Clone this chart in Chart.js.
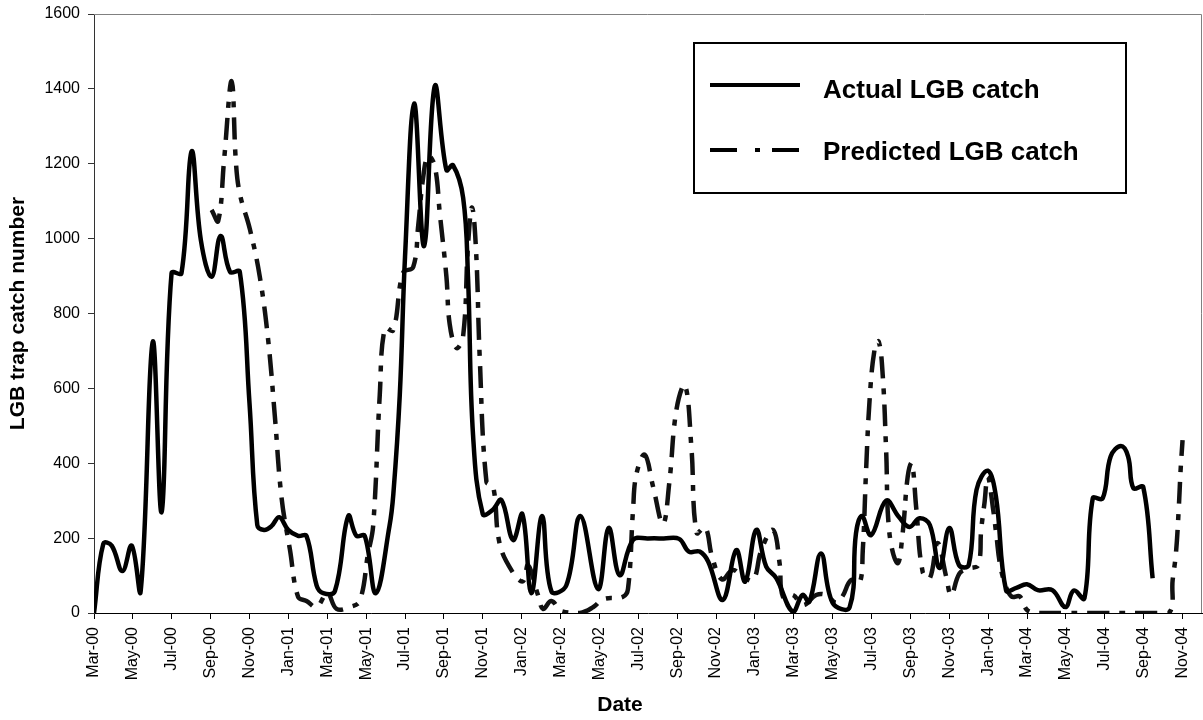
<!DOCTYPE html>
<html>
<head>
<meta charset="utf-8">
<script src="https://cdn.jsdelivr.net/npm/chart.js@4/dist/chart.umd.min.js"></script>
<style>
  html, body { margin: 0; padding: 0; background: #fff; }
</style>
</head>
<body>
<canvas id="lgbChart" width="1203" height="720"></canvas>
<script>
// x values are months counted from Mar-00 (0 = Mar-00, 12 = Mar-01 ...)
const tickLabels = ['Mar-00', 'May-00', 'Jul-00', 'Sep-00', 'Nov-00', 'Jan-01', 'Mar-01', 'May-01',
  'Jul-01', 'Sep-01', 'Nov-01', 'Jan-02', 'Mar-02', 'May-02', 'Jul-02', 'Sep-02', 'Nov-02',
  'Jan-03', 'Mar-03', 'May-03', 'Jul-03', 'Sep-03', 'Nov-03', 'Jan-04', 'Mar-04', 'May-04',
  'Jul-04', 'Sep-04', 'Nov-04'];

const actualMonths = [0, 0.48, 0.91, 1.46, 1.94, 2.4, 3.02, 3.48, 3.99, 4.5, 5.02, 5.5, 6.05, 6.51, 7.0,
  7.5, 8.0, 8.4, 8.75, 9.13, 9.53, 9.99, 10.5, 10.93, 11.45, 11.79, 12.39, 13.08, 13.5, 13.93,
  14.5, 15.2, 15.4, 15.73, 16.0, 16.47, 16.98, 17.53, 18.13, 18.47, 18.99, 19.24, 19.5, 20.0, 20.5,
  20.96, 21.56, 22.04, 22.5, 23.05, 23.53, 24.3, 25.02, 25.93, 26.48, 27.04, 27.73, 28.5, 29.3, 30.1,
  30.6, 31.16, 31.6, 32.35, 33.04, 33.5, 34.07, 34.58, 35.1, 35.95, 36.45, 36.8, 37.4, 38.0, 38.87,
  39.2, 39.5, 39.98, 40.75, 41.4, 41.95, 42.47, 43.0, 43.5, 44.0, 44.5, 45.0, 45.4, 45.98, 46.4,
  46.92, 47.45, 47.99, 48.55, 49.3, 49.97, 50.4, 50.95, 51.38, 51.89, 52.3, 52.83, 53.2, 53.47, 53.98,
  54.46];
const actualCatch = [0, 185, 180, 112, 180, 58, 724, 270, 908, 908, 1233, 995, 898, 1007, 911,
  911, 560, 235, 222, 232, 256, 222, 206, 206, 74, 53, 58, 259, 206, 206,
  53, 232, 318, 582, 951, 1361, 980, 1407, 1183, 1196, 1109, 898, 475, 264, 275,
  302, 195, 264, 53, 259, 58, 74, 259, 64, 227, 101, 195, 199, 199, 198,
  164, 164, 137, 35, 168, 84, 222, 124, 93, 3, 48, 30, 159, 27, 15,
  213, 259, 208, 300, 257, 230, 253, 235, 120, 227, 128, 128, 329, 380, 311,
  61, 67, 77, 61, 61, 16, 60, 39, 306, 306, 418, 446, 418, 333, 336,
  93];

const predictedMonths = [6.05, 6.39, 6.7, 7.08, 7.3, 7.5, 8.02, 8.53, 8.96, 9.3, 9.65, 10.08, 10.5,
  10.93, 11.45, 12.0, 12.48, 13.16, 13.67, 14.1, 14.36, 14.7, 14.96, 15.39, 15.9, 16.42, 16.68,
  16.93, 17.19, 17.53, 17.79, 18.13, 18.3, 18.65, 18.99, 19.24, 19.45, 19.66, 19.84, 20.19, 20.53,
  20.87, 21.56, 22.07, 22.33, 22.84, 23.1, 23.53, 24.05, 25.0, 25.69, 26.2, 27.2, 27.47, 27.73,
  27.9, 28.33, 28.76, 29.27, 29.6, 29.96, 30.4, 30.73, 31.0, 31.44, 31.8, 32.3, 32.86, 33.3,
  33.9, 34.33, 34.93, 35.27, 35.44, 35.96, 36.47, 37.15, 37.66, 38.18, 38.5, 38.95, 39.38, 39.55,
  39.72, 39.9, 40.15, 40.37, 40.58, 40.75, 40.92, 41.34, 41.6, 41.86, 42.07, 42.3, 42.63, 43.0,
  43.4, 43.84, 44.1, 44.53, 45.04, 45.49, 45.64, 45.81, 45.98, 46.26, 46.43, 46.6, 46.86, 47.2,
  47.63, 48.0, 48.6, 50.0, 52.0, 54.0, 55.3, 55.49, 55.66, 55.8, 55.9, 56.0];
const predictedCatch = [1077, 1047, 1215, 1421, 1204, 1120, 1025, 898, 729, 528, 307, 169, 43,
  32, 16, 53, 11, 16, 32, 159, 232, 582, 761, 755, 909, 924, 1035,
  1162, 1221, 1194, 1067, 898, 771, 708, 740, 982, 1083, 962, 687, 350, 339,
  185, 107, 85, 128, 48, 11, 32, 5, 0, 16, 37, 43, 64, 275,
  370, 423, 338, 238, 350, 542, 609, 444, 214, 229, 150, 90, 115, 101,
  88, 168, 222, 133, 44, 48, 21, 48, 48, 27, 44, 88, 79, 168,
  382, 569, 702, 725, 631, 435, 213, 133, 213, 364, 400, 280, 110, 93,
  187, 97, 48, 106, 119, 128, 222, 294, 364, 275, 204, 133, 79, 44,
  44, 8, 0, 0, 0, 0, 0, 88, 160, 275, 382, 462];

const FONT = "'Liberation Sans', Arial, sans-serif";
Chart.defaults.font.family = FONT;
Chart.defaults.color = '#000';

const toPoints = (xs, ys) => xs.map((x, i) => ({ x: x, y: ys[i] }));

// frame edges, legend box and x title
const extras = {
  id: 'extras',
  afterDraw(chart) {
    const { ctx, chartArea: a } = chart;
    ctx.save();
    ctx.strokeStyle = '#808080';
    ctx.lineWidth = 1;
    ctx.beginPath();
    ctx.moveTo(a.left, a.top + 0.5);
    ctx.lineTo(a.right - 0.5, a.top + 0.5);
    ctx.lineTo(a.right - 0.5, a.bottom);
    ctx.stroke();

    ctx.fillStyle = '#fff';
    ctx.fillRect(694, 43, 432, 150);
    ctx.strokeStyle = '#000';
    ctx.lineWidth = 2;
    ctx.strokeRect(694, 43, 432, 150);

    ctx.lineWidth = 4;
    ctx.beginPath();
    ctx.moveTo(710, 85);
    ctx.lineTo(800, 85);
    ctx.stroke();
    ctx.setLineDash([27, 18, 5, 12]);
    ctx.beginPath();
    ctx.moveTo(710, 150);
    ctx.lineTo(800, 150);
    ctx.stroke();
    ctx.setLineDash([]);

    ctx.fillStyle = '#000';
    ctx.font = 'bold 26px ' + FONT;
    ctx.textAlign = 'left';
    ctx.textBaseline = 'alphabetic';
    ctx.fillText('Actual LGB catch', 823, 98);
    ctx.fillText('Predicted LGB catch', 823, 160);

    ctx.font = 'bold 21px ' + FONT;
    ctx.textAlign = 'center';
    ctx.textBaseline = 'middle';
    ctx.fillText('Date', 620, 705);
    ctx.restore();
  }
};

const chart = new Chart(document.getElementById('lgbChart').getContext('2d'), {
  type: 'line',
  data: {
    datasets: [
      {
        label: 'Actual LGB catch',
        data: toPoints(actualMonths, actualCatch),
        borderColor: '#000',
        borderWidth: 4.5,
        tension: 0.4,
        pointRadius: 0
      },
      {
        label: 'Predicted LGB catch',
        data: toPoints(predictedMonths, predictedCatch),
        borderColor: '#111',
        borderWidth: 4.5,
        borderDash: [22, 10, 6, 10],
        tension: 0.4,
        pointRadius: 0
      }
    ]
  },
  options: {
    responsive: false,
    animation: false,
    devicePixelRatio: 1,
    layout: { padding: { top: 14, right: 1, left: 0, bottom: 0 } },
    plugins: {
      legend: { display: false },
      tooltip: { enabled: false }
    },
    scales: {
      x: {
        type: 'linear',
        min: 0,
        max: 57,
        afterBuildTicks: (scale) => {
          scale.ticks = tickLabels.map((_, i) => ({ value: i * 2 }));
        },
        afterFit: (scale) => {
          scale.height = 107;
          scale.paddingLeft = 0;
          scale.paddingRight = 0;
        },
        grid: { drawOnChartArea: false, drawTicks: true, tickLength: 6, color: '#000' },
        border: { display: true, color: '#000', width: 1 },
        ticks: {
          autoSkip: false,
          maxRotation: 90,
          minRotation: 90,
          padding: 8,
          font: { size: 16 },
          callback: (value) => tickLabels[Math.round(value / 2)]
        }
      },
      y: {
        min: 0,
        max: 1600,
        afterFit: (scale) => {
          scale.width = 94;
          scale.paddingTop = 0;
          scale.paddingBottom = 0;
        },
        grid: { drawOnChartArea: false, drawTicks: true, tickLength: 6, color: '#333' },
        border: { display: true, color: '#333', width: 1 },
        ticks: {
          stepSize: 200,
          padding: 8,
          font: { size: 16 },
          callback: (value) => String(value)
        },
        title: {
          display: true,
          text: 'LGB trap catch number',
          font: { size: 21, weight: 'bold' },
          padding: { top: 6, bottom: 0 }
        }
      }
    }
  },
  plugins: [extras]
});
</script>
</body>
</html>
